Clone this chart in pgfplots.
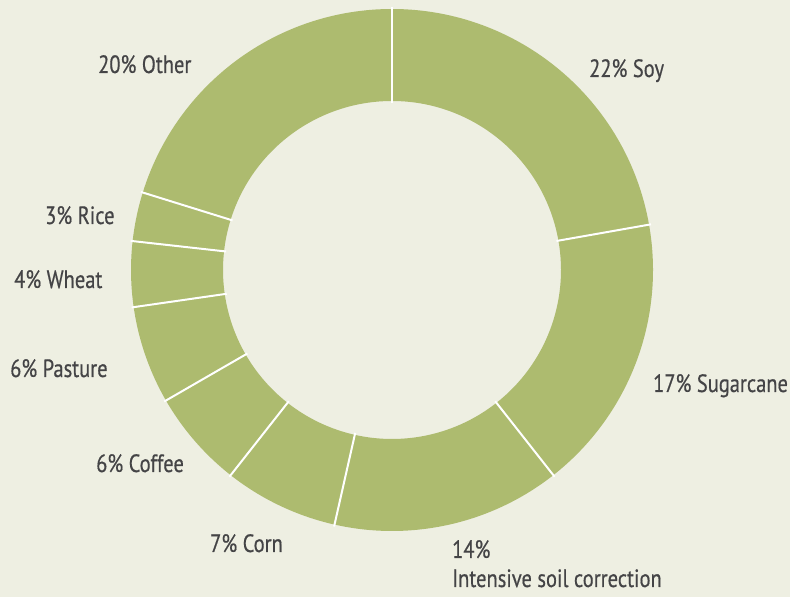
\documentclass[border=0pt]{standalone}
\usepackage{pgfplots}
\pgfplotsset{compat=1.18}
\usepackage{fontspec}
\setmainfont{PT Sans}[FakeStretch=0.82, FakeBold=0.5]
\definecolor{bg}{RGB}{238,239,226}
\definecolor{donut}{RGB}{173,187,111}
\definecolor{txt}{RGB}{68,68,70}
\def\slicevalues{22,17,14,7,6,6,4,3,20}
\begin{document}
\begin{tikzpicture}
\begin{axis}[hide axis, scale only axis, width=790pt, height=597pt,
  xmin=0, xmax=790, ymin=0, ymax=597, clip=false]
\addplot[draw=none, fill=bg] coordinates {(0,0) (790,0) (790,597) (0,597) (0,0)};
\pgfplotsextra{%
  \pgfkeys{/pgf/fpu=false}%
  \coordinate (C) at (axis cs:392,327);
  \gdef\cum{0}%
  \foreach \v in \slicevalues {%
    \pgfmathsetmacro\aone{90-\cum/99*360}%
    \pgfmathsetmacro\atwo{90-(\cum+\v)/99*360}%
    \fill[donut] ([shift={(\aone:261pt)}]C) arc[start angle=\aone, end angle=\atwo, radius=261pt] -- ([shift={(\atwo:169pt)}]C) arc[start angle=\atwo, end angle=\aone, radius=169pt] -- cycle;
    \pgfmathsetmacro\cnew{\cum+\v}\xdef\cum{\cnew}%
  }%
  \gdef\cum{0}%
  \foreach \v in \slicevalues {%
    \pgfmathsetmacro\aone{90-\cum/99*360}%
    \draw[white, line width=2pt] ([shift={(\aone:167pt)}]C) -- ([shift={(\aone:263pt)}]C);
    \pgfmathsetmacro\cnew{\cum+\v}\xdef\cum{\cnew}%
  }%
}
\begin{scope}[every node/.style={anchor=base west, inner sep=0pt, text=txt, font=\fontsize{25}{30}\selectfont}]
\node at (axis cs:589,520) {22\% Soy};
\node at (axis cs:653,205) {17\% Sugarcane};
\node at (axis cs:452,39) {14\%};
\node at (axis cs:452,10) {Intensive soil correction};
\node at (axis cs:210,45) {7\% Corn};
\node at (axis cs:96,125) {6\% Coffee};
\node at (axis cs:10,220) {6\% Pasture};
\node at (axis cs:14,309) {4\% Wheat};
\node at (axis cs:45,373) {3\% Rice};
\node at (axis cs:98,524) {20\% Other};
\end{scope}
\end{axis}
\end{tikzpicture}
\end{document}
